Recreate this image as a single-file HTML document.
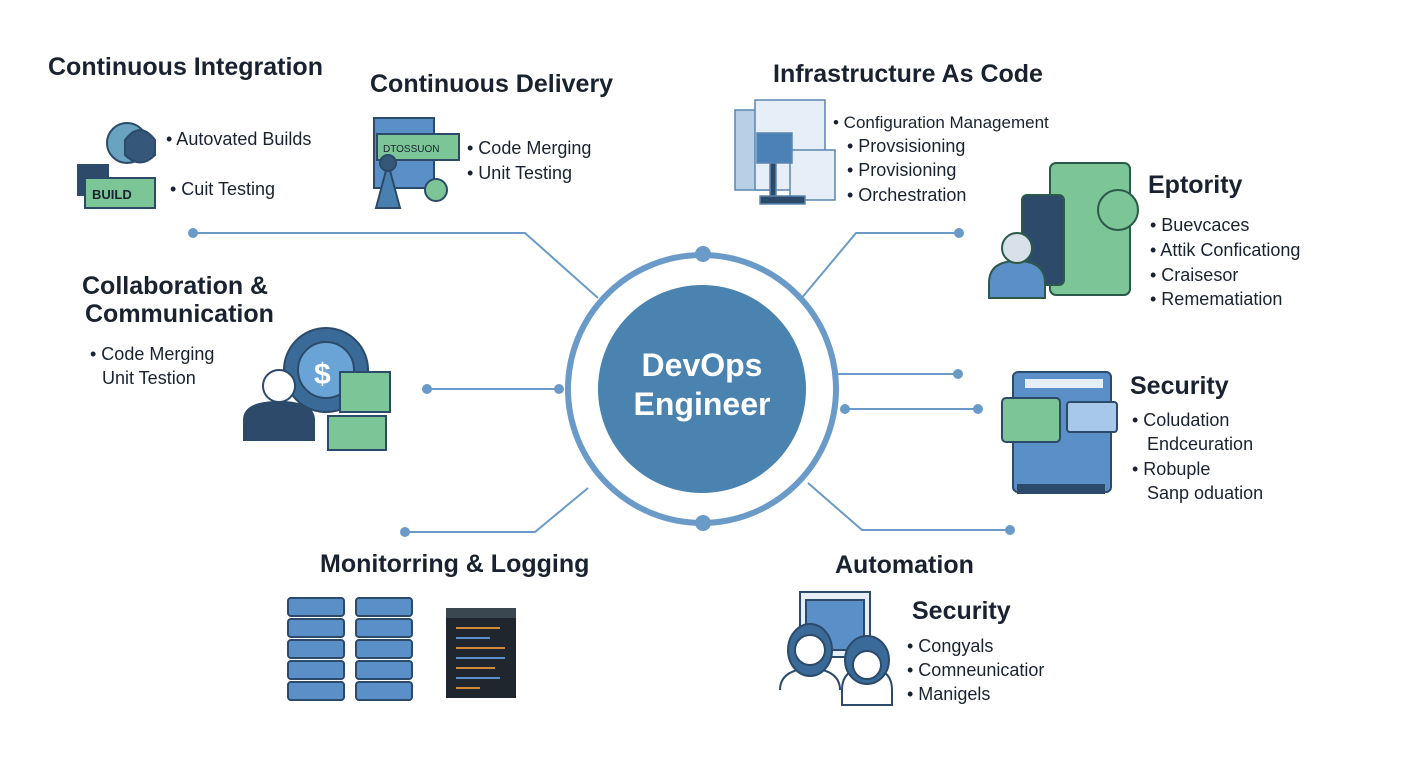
<!DOCTYPE html>
<html><head><meta charset="utf-8"><style>
html,body{margin:0;padding:0;background:#fff;}
svg text{font-family:"Liberation Sans",sans-serif;}
</style></head><body>
<svg width="1408" height="768" viewBox="0 0 1408 768" xmlns="http://www.w3.org/2000/svg">
<rect width="1408" height="768" fill="#fff"/>
<g stroke="#6a9ac8" stroke-width="2" fill="none">
<polyline points="193,233 525,233 598,298"/>
<polyline points="427,389 560,389"/>
<polyline points="405,532 535,532 588,488"/>
<polyline points="959,233 856,233 800,300"/>
<polyline points="836,374 958,374"/>
<polyline points="843,409 978,409"/>
<polyline points="808,483 862,530 1010,530"/>
</g>
<g fill="#6a9ac8">
<circle cx="193" cy="233" r="5"/><circle cx="427" cy="389" r="5"/><circle cx="405" cy="532" r="5"/>
<circle cx="959" cy="233" r="5"/><circle cx="958" cy="374" r="5"/><circle cx="978" cy="409" r="5"/><circle cx="1010" cy="530" r="5"/>
<circle cx="559" cy="389" r="5"/><circle cx="845" cy="409" r="5"/>
<circle cx="703" cy="254" r="8"/><circle cx="703" cy="523" r="8"/>
</g>
<circle cx="702" cy="389" r="134" fill="none" stroke="#6a9ac8" stroke-width="6"/>
<circle cx="702" cy="389" r="104" fill="#4a82b0"/>
<text x="702" y="376" font-size="32" fill="#fff" text-anchor="middle" font-weight="bold">DevOps</text>
<text x="702" y="415" font-size="32" fill="#fff" text-anchor="middle" font-weight="bold">Engineer</text>

<g fill="#1a2230" font-weight="bold" font-size="25">
<text x="48" y="75">Continuous Integration</text>
<text x="370" y="92">Continuous Delivery</text>
<text x="773" y="82">Infrastructure As Code</text>
<text x="82" y="294">Collaboration &amp;</text>
<text x="85" y="322">Communication</text>
<text x="1148" y="193">Eptority</text>
<text x="1130" y="394">Security</text>
<text x="320" y="572">Monitorring &amp; Logging</text>
<text x="835" y="573">Automation</text>
<text x="912" y="619">Security</text>
</g>
<g fill="#1a2230" font-size="18">
<text x="166" y="145">• Autovated Builds</text>
<text x="170" y="195">• Cuit Testing</text>
<text x="467" y="154">• Code Merging</text>
<text x="467" y="179">• Unit Testing</text>
<text x="833" y="128" font-size="17">• Configuration Management</text>
<text x="847" y="152">• Provsisioning</text>
<text x="847" y="176">• Provisioning</text>
<text x="847" y="201">• Orchestration</text>
<text x="90" y="360">• Code Merging</text>
<text x="102" y="384">Unit Testion</text>
<text x="1150" y="231">• Buevcaces</text>
<text x="1150" y="256">• Attik Conficationg</text>
<text x="1150" y="281">• Craisesor</text>
<text x="1150" y="305">• Remematiation</text>
<text x="1132" y="426">• Coludation</text>
<text x="1147" y="450">Endceuration</text>
<text x="1132" y="475">• Robuple</text>
<text x="1147" y="499">Sanp oduation</text>
<text x="907" y="652">• Congyals</text>
<text x="907" y="676">• Comneunicatior</text>
<text x="907" y="700">• Manigels</text>
</g>

<!-- CI icon -->
<g stroke="#2c4a6a" stroke-width="2">
<circle cx="127" cy="143" r="20" fill="#6aa3c0"/>
<path d="M125,140 q15,-20 30,0 v15 q-15,15 -30,0z" fill="#34577a"/>
<rect x="78" y="165" width="30" height="30" fill="#2d4a6a"/>
<rect x="85" y="178" width="70" height="30" fill="#7cc596"/>
</g>
<text x="92" y="199" font-size="13" fill="#1a2230" font-weight="bold">BUILD</text>
<!-- CD icon -->
<g stroke="#2c4a6a" stroke-width="2">
<rect x="374" y="118" width="60" height="70" fill="#5b8fc8"/>
<rect x="377" y="134" width="82" height="26" fill="#7cc596"/>
<path d="M376,208 l12,-45 l12,45z" fill="#4a80b0"/>
<circle cx="388" cy="163" r="8" fill="#34577a"/>
<circle cx="436" cy="190" r="11" fill="#7cc596"/>
</g>
<text x="383" y="152" font-size="10" fill="#1a2230">DTOSSUON</text>
<!-- IaC icon -->
<g stroke="#5a86b0" stroke-width="1.5">
<rect x="735" y="110" width="40" height="80" fill="#b8cfe6"/>
<rect x="755" y="100" width="70" height="90" fill="#e6eef8"/>
<rect x="790" y="150" width="45" height="50" fill="#e6eef8"/>
<rect x="757" y="133" width="35" height="30" fill="#4a82b8"/>
<rect x="770" y="163" width="6" height="35" fill="#2c4a6a"/>
<rect x="760" y="196" width="45" height="8" fill="#2c4a6a"/>
</g>
<!-- Eptority icon -->
<g stroke="#2c5a4a" stroke-width="2">
<rect x="1050" y="163" width="80" height="132" rx="6" fill="#7cc596"/>
<circle cx="1118" cy="210" r="20" fill="#7cc596"/>
<rect x="1022" y="195" width="42" height="90" rx="5" fill="#2d4a6a"/>
<path d="M989,298 v-15 q0,-22 28,-22 q28,0 28,22 v15z" fill="#5b8fc8"/>
<circle cx="1017" cy="248" r="15" fill="#d8e0ea"/>
</g>
<!-- Collab icon -->
<g stroke="#2c4a6a" stroke-width="2">
<circle cx="326" cy="370" r="42" fill="#3a6a98"/>
<circle cx="326" cy="370" r="28" fill="#6aa3d6"/>
<rect x="340" y="372" width="50" height="40" fill="#7cc596"/>
<rect x="328" y="416" width="58" height="34" fill="#7cc596"/>
<path d="M244,440 v-20 q0,-18 35,-18 q35,0 35,18 v20z" fill="#2d4a6a"/>
<circle cx="279" cy="386" r="16" fill="#fff"/>
</g>
<text x="314" y="384" font-size="30" fill="#fff" font-weight="bold">$</text>
<!-- Security icon -->
<g stroke="#2c4a6a" stroke-width="2">
<rect x="1013" y="372" width="98" height="120" rx="5" fill="#5b8fc8"/>
<rect x="1018" y="485" width="86" height="8" fill="#2c4a6a"/>
<rect x="1002" y="398" width="58" height="44" rx="4" fill="#7cc596"/>
<rect x="1067" y="402" width="50" height="30" rx="3" fill="#a8c8ea"/>
</g>
<rect x="1025" y="379" width="78" height="9" fill="#e6eef8"/>
<!-- Monitoring -->
<g stroke="#2c4a6a" stroke-width="2" fill="#5b8fc8">
<rect x="288" y="598" width="56" height="18" rx="3"/><rect x="288" y="619" width="56" height="18" rx="3"/><rect x="288" y="640" width="56" height="18" rx="3"/><rect x="288" y="661" width="56" height="18" rx="3"/><rect x="288" y="682" width="56" height="18" rx="3"/>
<rect x="356" y="598" width="56" height="18" rx="3"/><rect x="356" y="619" width="56" height="18" rx="3"/><rect x="356" y="640" width="56" height="18" rx="3"/><rect x="356" y="661" width="56" height="18" rx="3"/><rect x="356" y="682" width="56" height="18" rx="3"/>
</g>
<rect x="446" y="608" width="70" height="90" fill="#1f262e"/>
<rect x="446" y="608" width="70" height="10" fill="#3a4650"/>
<g stroke="#d08a3a" stroke-width="2"><line x1="456" y1="628" x2="500" y2="628"/><line x1="456" y1="648" x2="505" y2="648"/><line x1="456" y1="668" x2="495" y2="668"/><line x1="456" y1="688" x2="480" y2="688"/></g>
<g stroke="#5b8fc8" stroke-width="2"><line x1="456" y1="638" x2="490" y2="638"/><line x1="456" y1="658" x2="505" y2="658"/><line x1="456" y1="678" x2="500" y2="678"/></g>
<!-- Automation icon -->
<g stroke="#2c4a6a" stroke-width="2">
<rect x="800" y="592" width="70" height="65" fill="#e6eef8"/>
<rect x="806" y="600" width="58" height="50" fill="#5b8fc8"/>
<path d="M780,690 q0,-20 30,-22 q30,2 30,22" fill="none"/>
<ellipse cx="810" cy="650" rx="22" ry="26" fill="#3a6a98"/>
<circle cx="810" cy="650" r="15" fill="#fff"/>
<path d="M842,705 v-15 q0,-22 25,-22 q25,0 25,22 v15z" fill="#fff"/>
<ellipse cx="867" cy="660" rx="22" ry="24" fill="#3a6a98"/>
<circle cx="867" cy="665" r="14" fill="#fff"/>
</g>
</svg>
</body></html>
